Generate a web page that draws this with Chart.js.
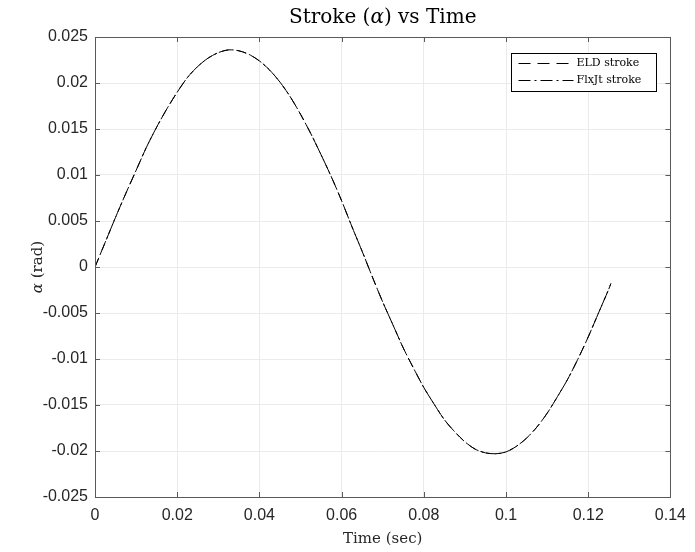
<!DOCTYPE html>
<html>
<head>
<meta charset="utf-8">
<script src="https://cdn.jsdelivr.net/npm/chart.js@4.4.1/dist/chart.umd.min.js"></script>
<style>
  html, body { margin: 0; padding: 0; background: #ffffff; }
  #wrap { width: 695px; height: 552px; }
</style>
</head>
<body>
<div id="wrap"><canvas id="c" width="695" height="552"></canvas></div>
<script>
// ---- data ----
const timeSec = [0, 0.0025, 0.005, 0.0075, 0.01, 0.0125, 0.015, 0.0175, 0.02, 0.0225,
  0.025, 0.0275, 0.03, 0.0325, 0.035, 0.0375, 0.04, 0.0425, 0.045, 0.0475,
  0.05, 0.0525, 0.055, 0.0575, 0.06, 0.0625, 0.065, 0.0675, 0.07, 0.0725,
  0.075, 0.0775, 0.08, 0.0825, 0.085, 0.0875, 0.09, 0.0925, 0.095, 0.0975,
  0.1, 0.1025, 0.105, 0.1075, 0.11, 0.1125, 0.115, 0.1175, 0.12, 0.1225,
  0.125, 0.1255];
const eldStroke = [0, 0.0027, 0.0054, 0.0080, 0.0105, 0.0130, 0.0152, 0.0172, 0.0190, 0.0206,
  0.0218, 0.0227, 0.0233, 0.0236, 0.0235, 0.0231, 0.0224, 0.0214, 0.0201, 0.0185,
  0.0166, 0.0145, 0.0122, 0.0098, 0.0072, 0.0044, 0.0017, -0.0011, -0.0038, -0.0063,
  -0.0088, -0.0110, -0.0131, -0.0149, -0.0166, -0.0179, -0.0190, -0.0198, -0.0202, -0.0203,
  -0.0201, -0.0195, -0.0186, -0.0174, -0.0159, -0.0141, -0.0122, -0.0100, -0.0076, -0.0050,
  -0.0024, -0.0018];
const flxjtStroke = [0, 0.0027, 0.0054, 0.0080, 0.0105, 0.0130, 0.0152, 0.0172, 0.0190, 0.0206,
  0.0218, 0.0227, 0.0233, 0.0236, 0.0235, 0.0231, 0.0224, 0.0214, 0.0201, 0.0185,
  0.0166, 0.0145, 0.0122, 0.0098, 0.0072, 0.0044, 0.0017, -0.0011, -0.0038, -0.0063,
  -0.0088, -0.0110, -0.0131, -0.0149, -0.0166, -0.0179, -0.0190, -0.0198, -0.0202, -0.0203,
  -0.0201, -0.0195, -0.0186, -0.0174, -0.0159, -0.0141, -0.0122, -0.0100, -0.0076, -0.0050,
  -0.0024, -0.0018];
const seriesNames = ['ELD stroke', 'FlxJt stroke'];
const xTickValues = [0, 0.02, 0.04, 0.06, 0.08, 0.1, 0.12, 0.14];
const xTickLabels = ['0', '0.02', '0.04', '0.06', '0.08', '0.1', '0.12', '0.14'];
const yTickValues = [-0.025, -0.02, -0.015, -0.01, -0.005, 0, 0.005, 0.01, 0.015, 0.02, 0.025];
const yTickLabels = ['-0.025', '-0.02', '-0.015', '-0.01', '-0.005', '0', '0.005', '0.01', '0.015', '0.02', '0.025'];
const titleParts = ['Stroke (', 'α', ') vs Time'];
const xTitle = 'Time (sec)';
const yTitleParts = ['α', ' (rad)'];

// ---- styles ----
const AXIS_COLOR = '#5a5a5a';
const GRID_COLOR = '#ebebeb';
const TEXT_COLOR = '#262626';
const SERIF = '"DejaVu Serif", "Liberation Serif", serif';
const SANS = '"Liberation Sans", Arial, sans-serif';
const dashStyles = [[10, 5], [10, 3, 2, 3]];

const toPoints = arr => timeSec.map((t, i) => ({ x: t, y: arr[i] }));

const framePlugin = {
  id: 'matlabFrame',
  afterDraw(chart) {
    const ctx = chart.ctx;
    const a = chart.chartArea;
    const xs = chart.scales.x, ys = chart.scales.y;
    ctx.save();
    // box
    ctx.strokeStyle = AXIS_COLOR;
    ctx.lineWidth = 1;
    ctx.strokeRect(Math.round(a.left) + 0.5, Math.round(a.top) + 0.5,
      Math.round(a.right - a.left), Math.round(a.bottom - a.top));
    // inward ticks
    const tl = 5;
    ctx.beginPath();
    xTickValues.forEach(v => {
      const px = Math.round(xs.getPixelForValue(v)) + 0.5;
      ctx.moveTo(px, a.bottom); ctx.lineTo(px, a.bottom - tl);
      ctx.moveTo(px, a.top); ctx.lineTo(px, a.top + tl);
    });
    yTickValues.forEach(v => {
      const py = Math.round(ys.getPixelForValue(v)) + 0.5;
      ctx.moveTo(a.left, py); ctx.lineTo(a.left + tl, py);
      ctx.moveTo(a.right, py); ctx.lineTo(a.right - tl, py);
    });
    ctx.stroke();

    // title
    ctx.fillStyle = '#000000';
    ctx.textBaseline = 'alphabetic';
    const tFont = '20px ' + SERIF, tFontI = 'italic 20px ' + SERIF;
    ctx.font = tFont; const w0 = ctx.measureText(titleParts[0]).width;
    ctx.font = tFontI; const w1 = ctx.measureText(titleParts[1]).width;
    ctx.font = tFont; const w2 = ctx.measureText(titleParts[2]).width;
    const cx = (a.left + a.right) / 2;
    let tx = cx - (w0 + w1 + w2) / 2;
    const ty = 23;
    ctx.textAlign = 'left';
    ctx.font = tFont; ctx.fillText(titleParts[0], tx, ty); tx += w0;
    ctx.font = tFontI; ctx.fillText(titleParts[1], tx, ty); tx += w1;
    ctx.font = tFont; ctx.fillText(titleParts[2], tx, ty);

    // x title
    ctx.font = '15px ' + SERIF;
    ctx.textAlign = 'center';
    ctx.fillStyle = TEXT_COLOR;
    ctx.fillText(xTitle, cx, 543);

    // y title (rotated)
    ctx.save();
    ctx.translate(42, (a.top + a.bottom) / 2);
    ctx.rotate(-Math.PI / 2);
    ctx.font = 'italic 15px ' + SERIF; const ya = ctx.measureText(yTitleParts[0]).width;
    ctx.font = '15px ' + SERIF; const yb = ctx.measureText(yTitleParts[1]).width;
    let yx = -(ya + yb) / 2;
    ctx.textAlign = 'left';
    ctx.font = 'italic 15px ' + SERIF; ctx.fillText(yTitleParts[0], yx, 0); yx += ya;
    ctx.font = '15px ' + SERIF; ctx.fillText(yTitleParts[1], yx, 0);
    ctx.restore();

    // legend
    const lx = 511.5, ly = 53.5, lw = 145, lh = 38;
    ctx.fillStyle = '#ffffff';
    ctx.fillRect(lx, ly, lw, lh);
    ctx.strokeStyle = '#000000';
    ctx.lineWidth = 1;
    ctx.strokeRect(lx, ly, lw, lh);
    ctx.font = '11px ' + SERIF;
    ctx.textAlign = 'left';
    ctx.textBaseline = 'middle';
    seriesNames.forEach((name, i) => {
      const rowY = ly + 10 + i * 17;
      ctx.save();
      ctx.setLineDash(i === 0 ? [12, 7] : [12, 4, 2, 4]);
      ctx.lineWidth = 1;
      ctx.strokeStyle = '#000000';
      ctx.beginPath();
      ctx.moveTo(lx + 7, rowY); ctx.lineTo(lx + 62, rowY);
      ctx.stroke();
      ctx.restore();
      ctx.fillStyle = '#000000';
      ctx.fillText(name, lx + 65, rowY);
    });
    ctx.restore();
  }
};

new Chart(document.getElementById('c'), {
  type: 'line',
  data: {
    datasets: [
      { label: seriesNames[0], data: toPoints(eldStroke), borderColor: '#000000', borderWidth: 1,
        borderDash: dashStyles[0], pointRadius: 0, fill: false, tension: 0.3 },
      { label: seriesNames[1], data: toPoints(flxjtStroke), borderColor: '#000000', borderWidth: 1,
        borderDash: dashStyles[1], pointRadius: 0, fill: false, tension: 0.3 }
    ]
  },
  options: {
    responsive: false,
    animation: false,
    devicePixelRatio: 1,
    layout: { padding: { top: 37, right: 18, left: 0, bottom: 0 } },
    plugins: { legend: { display: false }, title: { display: false }, tooltip: { enabled: false } },
    scales: {
      x: {
        type: 'linear', min: 0, max: 0.14,
        afterBuildTicks: s => { s.ticks = xTickValues.map(v => ({ value: v })); },
        afterFit: s => { s.height = 55; },
        grid: { color: GRID_COLOR, lineWidth: 1, drawTicks: false },
        border: { display: false },
        ticks: { font: { family: SANS, size: 16 }, color: TEXT_COLOR, padding: 9,
          maxRotation: 0, autoSkip: false,
          callback: (v, i) => xTickLabels[i] }
      },
      y: {
        type: 'linear', min: -0.025, max: 0.025,
        afterBuildTicks: s => { s.ticks = yTickValues.map(v => ({ value: v })); },
        afterFit: s => { s.width = 95; },
        grid: { color: GRID_COLOR, lineWidth: 1, drawTicks: false },
        border: { display: false },
        ticks: { font: { family: SANS, size: 16 }, color: TEXT_COLOR, padding: 7,
          autoSkip: false,
          callback: (v, i) => yTickLabels[i] }
      }
    }
  },
  plugins: [framePlugin]
});
</script>
</body>
</html>
